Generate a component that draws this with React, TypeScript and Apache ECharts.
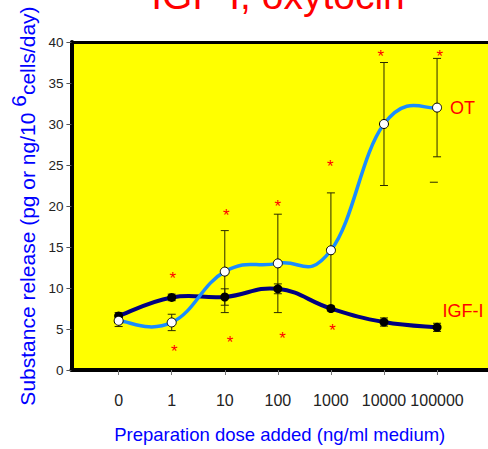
import React, { useEffect, useRef } from "react";
import * as echarts from "echarts";

// ---- data ----
const doseLabels = ["0", "1", "10", "100", "1000", "10000", "100000"];
const doseIndex = [0, 1, 2, 3, 4, 5, 6];
const otValues = [6.0, 5.8, 12.0, 13.0, 14.6, 30.0, 32.0];
const otError = [0.7, 1.0, 5.0, 6.0, 7.0, 7.5, 6.0];
const igfValues = [6.6, 8.85, 8.9, 9.9, 7.5, 5.85, 5.2];
const igfError = [0.4, 0.4, 1.0, 0.6, 0.3, 0.5, 0.5];
const otStrayCapDose = [5.94];
const otStrayCapLevel = [22.9];
const asteriskDose = [1.02, 2.03, 3.0, 3.99, 4.94, 6.05, 1.05, 2.1, 3.09, 4.03];
const asteriskLevel = [11.6, 19.3, 20.4, 25.3, 38.75, 38.75, 2.7, 3.8, 4.3, 5.3];
const seriesNames = ["OT", "IGF-I"];
const titleText = "IGF-I, oxytocin";

const FONT = "'Liberation Sans', Arial, Helvetica, sans-serif";
const TENSION = 0.22;

function splineRenderer(values: number[], color: string, width: number) {
  return (params: any, api: any) => {
    const n = values.length;
    const i = params.dataIndex;
    if (i >= n - 1) return null;
    const pt = (j: number) => {
      const k = Math.max(0, Math.min(n - 1, j));
      return api.coord([doseIndex[k], values[k]]);
    };
    const p0 = pt(i - 1);
    const p1 = pt(i);
    const p2 = pt(i + 1);
    const p3 = pt(i + 2);
    return {
      type: "bezierCurve",
      shape: {
        x1: p1[0],
        y1: p1[1],
        cpx1: p1[0] + (p2[0] - p0[0]) * TENSION,
        cpy1: p1[1] + (p2[1] - p0[1]) * TENSION,
        cpx2: p2[0] - (p3[0] - p1[0]) * TENSION,
        cpy2: p2[1] - (p3[1] - p1[1]) * TENSION,
        x2: p2[0],
        y2: p2[1],
      },
      style: { stroke: color, lineWidth: width, fill: null, lineCap: "round" },
    };
  };
}

function errorBarRenderer(params: any, api: any) {
  const x = api.value(0);
  const lo = api.coord([x, api.value(1)]);
  const hi = api.coord([x, api.value(2)]);
  const half = 4;
  const st = { stroke: "#2a2a00", lineWidth: 1 };
  return {
    type: "group",
    children: [
      { type: "line", shape: { x1: lo[0], y1: lo[1], x2: hi[0], y2: hi[1] }, style: st },
      { type: "line", shape: { x1: lo[0] - half, y1: lo[1], x2: lo[0] + half, y2: lo[1] }, style: st },
      { type: "line", shape: { x1: hi[0] - half, y1: hi[1], x2: hi[0] + half, y2: hi[1] }, style: st },
    ],
  };
}

function capRenderer(params: any, api: any) {
  const c = api.coord([api.value(0), api.value(1)]);
  return {
    type: "line",
    shape: { x1: c[0] - 4, y1: c[1], x2: c[0] + 4, y2: c[1] },
    style: { stroke: "#2a2a00", lineWidth: 1 },
  };
}

function asteriskRenderer(params: any, api: any) {
  const c = api.coord([api.value(0), api.value(1)]);
  return {
    type: "text",
    x: c[0],
    y: c[1] + 4,
    style: {
      text: "*",
      fill: "#ff0000",
      fontSize: 17,
      fontFamily: FONT,
      align: "center",
      verticalAlign: "middle",
    },
  };
}

export default function App() {
  const ref = useRef<HTMLDivElement>(null);

  useEffect(() => {
    document.body.style.margin = "0";
    if (!ref.current) return;
    const chart = echarts.init(ref.current, null, { renderer: "svg" });

    const errData = (vals: number[], errs: number[]) =>
      doseIndex.map((x, i) => [x, vals[i] - errs[i], vals[i] + errs[i]]);
    const lastIdx = doseIndex.length - 1;

    const option: any = {
      animation: false,
      backgroundColor: "#ffffff",
      graphic: [
        {
          type: "text",
          x: 278,
          y: -5,
          style: {
            text: titleText,
            fill: "#ff0000",
            fontSize: 39,
            fontFamily: FONT,
            align: "center",
            verticalAlign: "middle",
          },
        },
      ],
      grid: {
        left: 71,
        right: 0,
        top: 42,
        bottom: 77,
        show: true,
        backgroundColor: "#ffff00",
        borderWidth: 0,
      },
      xAxis: [
        {
          type: "value",
          min: -0.89,
          max: 6.96,
          splitLine: { show: false },
          axisLine: { show: true, onZero: false, lineStyle: { color: "#000", width: 4 } },
          axisTick: {
            show: true,
            length: 5,
            customValues: doseIndex,
            lineStyle: { color: "#777", width: 1 },
          },
          axisLabel: {
            customValues: doseIndex,
            formatter: (v: number) => doseLabels[Math.round(v)] ?? "",
            fontSize: 16,
            fontFamily: FONT,
            color: "#222",
            margin: 22,
          },
          name: "Preparation dose added (ng/ml medium)",
          nameLocation: "middle",
          nameGap: 55,
          nameTextStyle: { color: "#0000ff", fontSize: 18.5, fontFamily: FONT },
        },
        {
          type: "value",
          position: "top",
          min: -0.89,
          max: 6.96,
          splitLine: { show: false },
          axisLine: { show: true, onZero: false, lineStyle: { color: "#000", width: 3 } },
          axisTick: { show: false },
          axisLabel: { show: false },
        },
      ],
      yAxis: {
        type: "value",
        min: 0,
        max: 40,
        interval: 5,
        splitLine: { show: false },
        axisLine: { show: true, onZero: false, lineStyle: { color: "#000", width: 4 } },
        axisTick: { show: true, length: 5, lineStyle: { color: "#555", width: 1 } },
        axisLabel: { fontSize: 13.5, fontFamily: FONT, color: "#222", margin: 8 },
        name: "{a|Substance release (pg or ng/10 }{b|6}{a|cells/day)}",
        nameLocation: "middle",
        nameGap: 22,
        nameTextStyle: {
          color: "#0000ff",
          fontSize: 21,
          fontFamily: FONT,
          rich: {
            a: { color: "#0000ff", fontSize: 21, fontFamily: FONT, lineHeight: 38, verticalAlign: "middle" },
            b: { color: "#0000ff", fontSize: 21, fontFamily: FONT, lineHeight: 21, verticalAlign: "top" },
          },
        },
      },
      series: [
        {
          type: "custom",
          name: "OT error",
          z: 2,
          renderItem: errorBarRenderer,
          encode: { x: 0, y: [1, 2] },
          data: errData(otValues, otError),
        },
        {
          type: "custom",
          name: "IGF error",
          z: 2,
          renderItem: errorBarRenderer,
          encode: { x: 0, y: [1, 2] },
          data: errData(igfValues, igfError),
        },
        {
          type: "custom",
          name: "OT stray cap",
          z: 2,
          renderItem: capRenderer,
          encode: { x: 0, y: 1 },
          data: otStrayCapDose.map((x, i) => [x, otStrayCapLevel[i]]),
        },
        {
          type: "custom",
          name: "IGF curve",
          z: 3,
          renderItem: splineRenderer(igfValues, "#000080", 4),
          encode: { x: 0, y: 1 },
          data: doseIndex.map((x, i) => [x, igfValues[i]]),
        },
        {
          type: "scatter",
          name: seriesNames[1],
          z: 4,
          symbol: "circle",
          symbolSize: 9,
          itemStyle: { color: "#000000", opacity: 1 },
          data: doseIndex.map((x, i) => ({
            value: [x, igfValues[i]],
            label:
              i === lastIdx
                ? {
                    show: true,
                    position: "right",
                    distance: 1,
                    offset: [0, -16],
                    formatter: seriesNames[1],
                    color: "#ff0000",
                    fontSize: 18,
                    fontFamily: FONT,
                  }
                : { show: false },
          })),
        },
        {
          type: "custom",
          name: "OT curve",
          z: 5,
          renderItem: splineRenderer(otValues, "#1a8cff", 3.5),
          encode: { x: 0, y: 1 },
          data: doseIndex.map((x, i) => [x, otValues[i]]),
        },
        {
          type: "scatter",
          name: seriesNames[0],
          z: 6,
          symbol: "circle",
          symbolSize: 9,
          itemStyle: { color: "#ffffff", borderColor: "#000000", borderWidth: 1, opacity: 1 },
          data: doseIndex.map((x, i) => ({
            value: [x, otValues[i]],
            label:
              i === lastIdx
                ? {
                    show: true,
                    position: "right",
                    distance: 8,
                    formatter: seriesNames[0],
                    color: "#ff0000",
                    fontSize: 18,
                    fontFamily: FONT,
                  }
                : { show: false },
          })),
        },
        {
          type: "custom",
          name: "significance",
          z: 7,
          renderItem: asteriskRenderer,
          encode: { x: 0, y: 1 },
          data: asteriskDose.map((x, i) => [x, asteriskLevel[i]]),
        },
      ],
    };

    chart.setOption(option);
    return () => {
      chart.dispose();
    };
  }, []);

  return <div ref={ref} style={{ width: 488, height: 449 }} />;
}
